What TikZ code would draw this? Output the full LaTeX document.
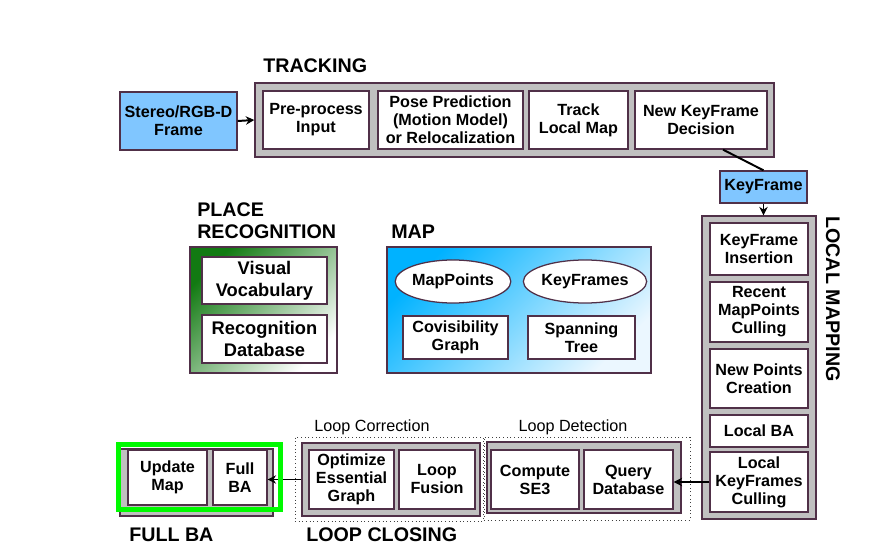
\documentclass[tikz,border=0pt]{standalone}
\usepackage{fontspec}
\setmainfont{Liberation Sans}
\usepackage{tikz}
\usetikzlibrary{shapes.geometric,calc,arrows.meta}

\definecolor{boxline}{RGB}{80,48,72}
\definecolor{framegray}{RGB}{192,192,192}
\definecolor{kfblue}{RGB}{128,198,255}
\definecolor{mapblue}{RGB}{0,178,255}
\definecolor{mapwhite}{RGB}{235,247,255}
\definecolor{placegreen}{RGB}{18,122,18}
\definecolor{fbgreen}{RGB}{0,250,0}

\begin{document}
\begin{tikzpicture}[x=0.025cm, y=-0.025cm]
    \tikzstyle{heading} = [
      anchor=west,
      align=left,
      inner sep=0pt,
      font=\fontsize{14}{15.6}\selectfont\bfseries,
    ]
    \tikzstyle{sublabel} = [
      anchor=center,
      inner sep=0pt,
      font=\fontsize{11.5}{13}\selectfont,
    ]
    \tikzstyle{proc} = [
      draw=boxline,
      line width=0.9pt,
      fill=white,
      align=center,
      inner sep=1pt,
      font=\fontsize{11.5}{12.8}\selectfont\bfseries,
    ]
    \tikzstyle{bigproc} = [
      proc,
      font=\fontsize{13}{15.4}\selectfont\bfseries,
    ]
    \tikzstyle{inbox} = [
      proc,
      fill=kfblue,
    ]
    \tikzstyle{frame} = [
      draw=boxline,
      line width=0.9pt,
      fill=framegray,
      inner sep=0pt,
    ]
    \tikzstyle{dotbox} = [
      draw=black!75,
      dotted,
      line width=0.6pt,
      inner sep=0pt,
    ]
    \tikzstyle{arrow} = [
      line width=1.4pt,
      -{Stealth[length=6pt,width=6pt]},
      draw=black,
    ]

    \newcommand{\rowheight}[0]{1.45cm}
    \newcommand{\loopheight}[0]{1.475cm}
    \newcommand{\lmwidth}[0]{2.45cm}

    \useasboundingbox (0,0) rectangle (881,556);

    % tracking
    {
      \node[heading] (trackTitle) at (263,66) {TRACKING};
      \node[inbox, minimum width=2.925cm, minimum height=\rowheight] (frame) at (178.5,121) {Stereo/RGB-D\\Frame};
      \node[frame, minimum width=12.975cm, minimum height=1.85cm] (trackFrame) at (514.5,120) {};
      \node[proc, minimum width=2.65cm, minimum height=\rowheight] (preproc) at (316,120) {Pre-process\\Input};
      \node[proc, minimum width=3.625cm, minimum height=\rowheight] (pose) at (450.5,120) {Pose Prediction\\(Motion Model)\\or Relocalization};
      \node[proc, minimum width=2.475cm, minimum height=\rowheight] (trackLocal) at (578.5,120) {Track\\Local Map};
      \node[proc, minimum width=3.3cm, minimum height=\rowheight] (kfDecision) at (701,120) {New KeyFrame\\Decision};

      \draw[arrow] (frame.east) -- (trackFrame.west);
    }

    % keyframe
    {
      \node[inbox, minimum width=2.175cm, minimum height=0.8cm] (keyframe) at (763.5,187) {KeyFrame};
      \draw[line width=1.4pt] ([xshift=0.55cm] kfDecision.south) -- (keyframe.north);
    }

    % local mapping
    {
      \node[frame, minimum width=2.85cm, minimum height=7.575cm] (lmFrame) at (759,367.5) {};
      \node[heading, anchor=center, rotate=-90] (lmTitle) at (833,299) {LOCAL MAPPING};
      \node[proc, minimum width=\lmwidth, minimum height=1.3cm] (kfInsert) at (759,249) {KeyFrame\\Insertion};
      \node[proc, minimum width=\lmwidth, minimum height=1.5cm] (mpCull) at (759,312) {Recent\\MapPoints\\Culling};
      \node[proc, minimum width=\lmwidth, minimum height=1.475cm] (newPoints) at (759,378.5) {New Points\\Creation};
      \node[proc, minimum width=\lmwidth, minimum height=0.8cm] (localBA) at (759,431) {Local BA};
      \node[proc, minimum width=\lmwidth, minimum height=1.5cm] (kfCull) at (759,482) {Local\\KeyFrames\\Culling};

      \draw[arrow] (keyframe.south) -- (keyframe.south |- lmFrame.north);
    }

    % place recognition
    {
      \node[heading] (placeTitle) at (197,221) {PLACE\\RECOGNITION};
      \node[draw=boxline, line width=0.9pt, top color=placegreen, bottom color=white, shading angle=45,
            minimum width=3.675cm, minimum height=3.15cm] (placeFrame) at (263.5,310) {};
      \node[bigproc, minimum width=3.125cm, minimum height=1.175cm] (vocab) at (264.5,280.5) {Visual\\Vocabulary};
      \node[bigproc, minimum width=3.125cm, minimum height=1.2cm] (recDB) at (264.5,339) {Recognition\\Database};
    }

    % map
    {
      \node[heading] (mapTitle) at (391,232) {MAP};
      \node[draw=boxline, line width=0.9pt, top color=mapblue, bottom color=mapwhite, shading angle=45,
            minimum width=6.6cm, minimum height=3.15cm] (mapFrame) at (519,310) {};
      \node[proc, ellipse, inner sep=0pt, minimum width=2.85cm, minimum height=1.075cm] (mapPoints) at (453,281.5) {MapPoints};
      \node[proc, ellipse, inner sep=0pt, minimum width=2.85cm, minimum height=1.075cm] (keyFrames) at (585,281.5) {KeyFrames};
      \node[proc, minimum width=2.625cm, minimum height=1.075cm] (covis) at (455.5,337.5) {Covisibility\\Graph};
      \node[proc, minimum width=2.675cm, minimum height=1.075cm] (spanTree) at (581.5,337.5) {Spanning\\Tree};
    }

    % loop closing
    {
      \node[heading] (loopTitle) at (306,535) {LOOP CLOSING};

      \node[dotbox, minimum width=5.15cm, minimum height=2.075cm] (detDots) at (587,478.5) {};
      \node[sublabel] (detLabel) at (573,427) {Loop Detection};
      \node[frame, minimum width=4.85cm, minimum height=1.775cm] (detFrame) at (584,477.5) {};
      \node[proc, minimum width=2.2cm, minimum height=\loopheight] (se3) at (535,479.5) {Compute\\SE3};
      \node[proc, minimum width=2.225cm, minimum height=\loopheight] (queryDB) at (628.5,479.5) {Query\\Database};

      \node[dotbox, minimum width=4.7cm, minimum height=2.1cm] (corDots) at (389,479) {};
      \node[sublabel] (corLabel) at (372,427) {Loop Correction};
      \node[frame, minimum width=4.45cm, minimum height=1.825cm] (corFrame) at (391,479.5) {};
      \node[proc, minimum width=2.125cm, minimum height=\loopheight] (essGraph) at (351.5,479.5) {Optimize\\Essential\\Graph};
      \node[proc, minimum width=1.9cm, minimum height=\loopheight] (fusion) at (437,479.5) {Loop\\Fusion};

      \draw[arrow] (kfCull.west) -- (queryDB.east |- kfCull.west);
    }

    % full BA
    {
      \node[heading] (fbTitle) at (129,535) {FULL BA};
      \node[frame, minimum width=3.825cm, minimum height=1.675cm] (fbFrame) at (196.5,482.5) {};
      \node[proc, minimum width=1.975cm, minimum height=1.375cm] (updateMap) at (167.5,477.5) {Update\\Map};
      \node[proc, minimum width=1.35cm, minimum height=1.375cm] (fullBA) at (240,477.5) {Full\\BA};

      \draw[arrow] (corFrame.west) -- (fullBA.east |- corFrame.west);
      \node[draw=fbgreen, line width=3.5pt, inner sep=0pt, minimum width=4.05cm, minimum height=1.625cm] (fbMark) at (199.5,477) {};
    }
\end{tikzpicture}
\end{document}
